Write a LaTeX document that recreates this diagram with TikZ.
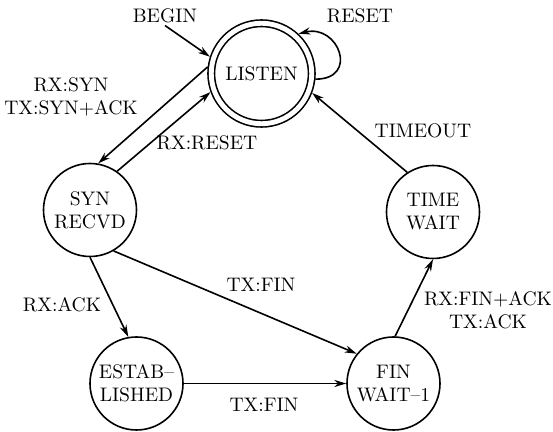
\documentclass[tikz,border=0pt]{standalone}
\usepackage{fontspec}
\usetikzlibrary{
  arrows.meta,  % Stealth tips
  positioning   % relative placement
}
\newcommand{\tcpfont}{\fontsize{9.8}{11.5}\selectfont}
\tikzset{
  tcpstate/.style={
    circle,
    draw,
    line width=0.8pt,
    minimum size=46.5pt,
    inner sep=0pt,
    align=center,
    font=\tcpfont
  },
  start state/.style={
    tcpstate,
    double,
    double distance=2.45pt,
    minimum size=50.25pt,
    outer sep=2pt
  },
  trans/.style={
    -{Stealth[length=6pt,width=3.6pt]},
    line width=0.8pt
  },
  trans label/.style={
    align=center,
    font=\tcpfont,
    inner sep=1pt
  }
}

\begin{document}
\begin{tikzpicture}[x=0.5pt, y=-0.5pt, >=Stealth]
    \useasboundingbox (0,0) rectangle (553,432);

    % 1. states
    \node[start state] (listen) at (261.5,73.5) {LISTEN};
    \node[tcpstate] (synrecvd) at (90,210) {SYN\\RECVD};
    \node[tcpstate] (timewait) at (433,212) {TIME\\WAIT};
    \node[tcpstate] (established) at (136.5,383.5) {ESTAB--\\LISHED};
    \node[tcpstate] (finwait) at (393.5,383.5) {FIN\\WAIT--1};

    % 2. transition labels
    \node[trans label] (begin) at (165,16) {BEGIN};
    \node[trans label] (reset) at (360,16) {RESET};
    \node[trans label] (rxsyn) at (71,96.5) {RX:SYN\\TX:SYN+ACK};
    \node[trans label] (rxreset) at (207,143) {RX:RESET};
    \node[trans label] (timeout) at (423,131) {TIMEOUT};
    \node[trans label] (txfinup) at (261,285) {TX:FIN};
    \node[trans label] (rxack) at (62,305) {RX:ACK};
    \node[trans label] (rxfinack) at (488,310) {RX:FIN+ACK\\TX:ACK};
    \node[trans label] (txfindown) at (264,405) {TX:FIN};

    % 3. transitions
    \draw[trans] (begin.south) -- (listen.162);
    \draw[trans] (listen.-6) .. controls +(44,0) and +(40,-10) .. (listen.47);
    \draw[trans] (listen.173) -- (synrecvd.80);
    \draw[trans] (synrecvd.55) -- (listen.200);
    \draw[trans] (synrecvd.-90) -- (established.100);
    \draw[trans] (synrecvd.-60) -- (finwait.141);
    \draw[trans] (established) -- (finwait);
    \draw[trans] (finwait.88) -- (timewait.-90);
    \draw[trans] (timewait.123) -- (listen.-21);

\end{tikzpicture}
\end{document}
